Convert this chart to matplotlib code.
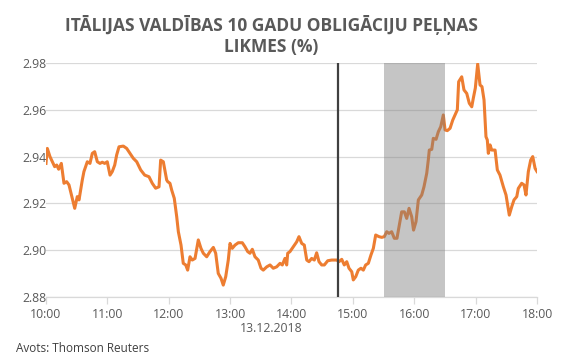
import numpy as np
import matplotlib.pyplot as plt

plt.rcParams['font.family'] = ['Open Sans', 'DejaVu Sans']

# minutes after 10:00 and yield (%)
minutes = [0, 1.3, 3.9, 6.2, 8.5, 10.5, 12.4, 15.0, 17.6, 20.2, 22.5, 25.7, 28.1, 30.6, 32.3,
           35.5, 37.1, 40.4, 43.0, 45.3, 47.6, 50.2, 52.8, 55.0, 57.4, 59.9, 62.6, 64.8, 67.2,
           69.1, 71.4, 75.6, 78.9, 82.1, 85.3, 88.7, 92.6, 96.5, 100.7, 103.9, 107.2, 110.5,
           112.1, 114.7, 118.0, 119.0, 121.2, 122.9, 125.4, 127.8, 129.4, 132.0, 134.2, 136.6,
           138.5, 140.8, 143.0, 145.7, 148.9, 151.5, 153.8, 157.1, 160.3, 163.6, 165.9, 168.4,
           171.1, 173.3, 175.7, 178.2, 179.9, 182.1, 184.8, 188.0, 191.9, 194.5, 197.2, 199.4,
           201.7, 204.3, 207.5, 210.2, 212.4, 215.8, 219.0, 222.2, 225.5, 228.8, 231.0, 233.6,
           235.3, 236.3, 238.5, 241.8, 245.1, 247.3, 250.0, 252.5, 254.9, 257.1, 259.7, 262.3,
           264.6, 266.9, 269.5, 272.1, 275.4, 279.3, 284.2, 286.4, 289.1, 291.6, 294.0, 296.2,
           298.9, 300.4, 302.8, 305.3, 307.9, 310.2, 312.5, 315.1, 317.7, 320.0, 322.3, 325.5,
           328.2, 330.7, 333.1, 335.3, 337.9, 340.5, 343.1, 345.1, 347.7, 350.3, 352.6, 354.9,
           357.5, 359.3, 361.7, 364.0, 367.3, 369.5, 372.2, 373.7, 374.7, 377.1, 378.6, 381.3,
           383.5, 385.9, 388.4, 390.1, 392.3, 395.0, 397.6, 399.8, 402.1, 403.4, 406.4, 408.6,
           411.3, 413.8, 416.2, 417.7, 419.7, 422.0, 424.3, 426.2, 428.2, 430.1, 431.4, 432.4,
           434.1, 435.7, 439.0, 441.2, 443.8, 447.1, 449.7, 452.9, 455.3, 457.5, 460.2, 461.7,
           465.0, 467.3, 469.2, 471.5, 473.8, 475.8, 478.1, 480.0]
yields = [2.9371, 2.9435, 2.9400, 2.9378, 2.9357, 2.9364, 2.9346, 2.9371, 2.9286, 2.9293,
          2.9279, 2.9222, 2.9179, 2.9229, 2.9215, 2.9300, 2.9336, 2.9378, 2.9371, 2.9414,
          2.9421, 2.9378, 2.9371, 2.9376, 2.9371, 2.9378, 2.9321, 2.9336, 2.9364, 2.9407,
          2.9442, 2.9445, 2.9435, 2.9414, 2.9393, 2.9378, 2.9343, 2.9321, 2.9314, 2.9286,
          2.9265, 2.9271, 2.9385, 2.9378, 2.9300, 2.9293, 2.9286, 2.9257, 2.9222, 2.9143,
          2.9079, 2.9022, 2.8944, 2.8937, 2.8915, 2.8972, 2.8958, 2.8965, 2.9044, 2.9008,
          2.8987, 2.8972, 2.8994, 2.9012, 2.8987, 2.8901, 2.8880, 2.8851, 2.8887, 2.8958,
          2.9029, 2.9008, 2.9022, 2.9032, 2.9032, 2.9015, 2.8994, 2.8987, 2.9004, 2.8972,
          2.8958, 2.8923, 2.8915, 2.8929, 2.8937, 2.8923, 2.8929, 2.8944, 2.8937, 2.8965,
          2.8937, 2.8987, 2.8994, 2.9015, 2.9036, 2.9058, 2.9029, 2.9022, 2.8958, 2.8951,
          2.8965, 2.8958, 2.8989, 2.8951, 2.8937, 2.8937, 2.8955, 2.8958, 2.8958, 2.8951,
          2.8961, 2.8937, 2.8951, 2.8923, 2.8908, 2.8873, 2.8887, 2.8915, 2.8923, 2.8915,
          2.8937, 2.8944, 2.8980, 2.9008, 2.9065, 2.9058, 2.9055, 2.9058, 2.9079, 2.9072,
          2.9079, 2.9051, 2.9051, 2.9101, 2.9164, 2.9164, 2.9136, 2.9179, 2.9143, 2.9086,
          2.9122, 2.9215, 2.9236, 2.9271, 2.9329, 2.9385, 2.9428, 2.9431, 2.9478, 2.9474,
          2.9506, 2.9528, 2.9578, 2.9514, 2.9511, 2.9521, 2.9556, 2.9578, 2.9600, 2.9720,
          2.9741, 2.9685, 2.9670, 2.9628, 2.9613, 2.9649, 2.9693, 2.9796, 2.9706, 2.9699,
          2.9642, 2.9485, 2.9471, 2.9414, 2.9450, 2.9428, 2.9428, 2.9343, 2.9321, 2.9271,
          2.9236, 2.9150, 2.9186, 2.9215, 2.9229, 2.9264, 2.9286, 2.9279, 2.9236, 2.9336,
          2.9385, 2.9400, 2.9350, 2.9336]

hour_labels = ['10:00', '11:00', '12:00', '13:00', '14:00', '15:00', '16:00', '17:00', '18:00']
y_ticks = [2.88, 2.90, 2.92, 2.94, 2.96, 2.98]
marker_time = 4.75          # vertical line, hours after 10:00
shade_span = (5.5, 6.5)     # grey band, hours after 10:00

hours = np.array(minutes) / 60.0

fig = plt.figure(figsize=(5.69, 3.57), dpi=100)
ax = fig.add_axes([0.0808, 0.168, 0.863, 0.6555])

ax.plot(hours, yields, color='#ED7D31', lw=2.2, solid_joinstyle='round', zorder=2)
ax.axvspan(shade_span[0], shade_span[1], color='#7F7F7F', alpha=0.45, lw=0, zorder=3)
ax.axvline(marker_time, color='#404040', lw=1.6, zorder=4)

ax.set_xlim(0, 8)
ax.set_ylim(2.88, 2.98)
ax.set_yticks(y_ticks)
ax.set_yticklabels(['%.2f' % v for v in y_ticks])
ax.set_xticks(range(len(hour_labels)))
ax.set_xticklabels(hour_labels)

ax.grid(axis='y', color='#D9D9D9', lw=0.9, zorder=0)
ax.set_axisbelow(True)
for s in ['top', 'right', 'left']:
    ax.spines[s].set_visible(False)
ax.spines['bottom'].set_color('#D9D9D9')
ax.spines['bottom'].set_linewidth(0.9)
ax.tick_params(axis='x', colors='#D9D9D9', length=5, width=0.9, labelcolor='#595959',
               labelsize=8.8, pad=3)
ax.tick_params(axis='y', length=0, labelcolor='#595959', labelsize=8.8, pad=17)
for lab in ax.get_yticklabels():
    lab.set_horizontalalignment('left')

fig.text(0.477, 0.958, 'ITĀLIJAS VALDĪBAS 10 GADU OBLIGĀCIJU PEĻŅAS\nLIKMES (%)',
         ha='center', va='top', fontsize=12.5, fontweight='bold', color='#595959',
         linespacing=1.25)
fig.text(271 / 569, 1 - 328 / 357, '13.12.2018', ha='center', va='center',
         fontsize=8.8, color='#595959')
fig.text(16 / 569, 1 - 349 / 357, 'Avots: Thomson Reuters', ha='left', va='center',
         fontsize=8.5, color='#404040')

fig.savefig('out.png', dpi=100)
